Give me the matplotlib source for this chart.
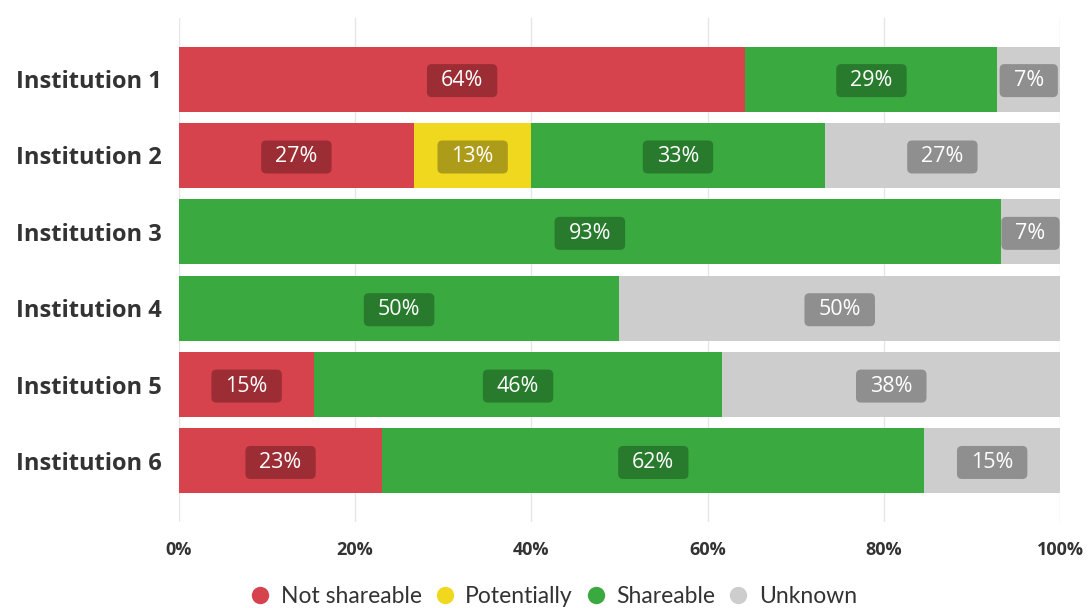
import matplotlib
matplotlib.use("Agg")
import matplotlib.pyplot as plt
from matplotlib.lines import Line2D
from matplotlib.patches import FancyBboxPatch
from matplotlib.transforms import IdentityTransform
import numpy as np

institutions = ["Institution 1", "Institution 2", "Institution 3",
                "Institution 4", "Institution 5", "Institution 6"]
series_names = ["Not shareable", "Potentially", "Shareable", "Unknown"]
not_shareable = [64.3, 26.7, 0.0, 0.0, 15.4, 23.1]
potentially = [0.0, 13.3, 0.0, 0.0, 0.0, 0.0]
shareable = [28.6, 33.3, 93.3, 50.0, 46.2, 61.5]
unknown = [7.1, 26.7, 6.7, 50.0, 38.5, 15.4]
x_ticks = [0, 20, 40, 60, 80, 100]

colors = ["#d6434d", "#f0d81e", "#3aa940", "#cdcdcd"]
box_colors = ["#9c2d34", "#ad9b1a", "#287a2c", "#8f8f8f"]

plt.rcParams['font.family'] = ['Open Sans', 'DejaVu Sans']

fig = plt.figure(figsize=(10.9, 6.08), dpi=100)
ax = fig.add_axes([0.164, 0.1414, 0.8085, 0.829])

y = np.arange(len(institutions))
left = np.zeros(len(institutions))
labels = []
for vals, c, bc in zip([not_shareable, potentially, shareable, unknown], colors, box_colors):
    vals = np.array(vals)
    ax.barh(y, vals, left=left, height=0.85, color=c, zorder=2)
    for yi, (l, v) in enumerate(zip(left, vals)):
        if v > 0:
            t = ax.text(l + v / 2, yi + 0.02, f"{round(v)}%", ha="center", va="center",
                        color="white", fontsize=15.5, zorder=4)
            labels.append((t, bc))
    left = left + vals

ax.set_xlim(0, 100)
ax.set_ylim(5.8, -0.8)
ax.set_xticks(x_ticks)
ax.set_xticklabels([f"{t}%" for t in x_ticks], fontsize=13, fontweight="bold",
                   color="#333333")
ax.set_yticks(y)
ax.set_yticklabels(institutions, fontsize=17, fontweight="bold", color="#333333")
ax.tick_params(length=0)
ax.tick_params(axis="x", pad=14)
ax.tick_params(axis="y", pad=12)
for s in ax.spines.values():
    s.set_visible(False)
ax.grid(axis="x", color="#e6e6e6", linewidth=1, zorder=0)
ax.set_axisbelow(True)

handles = [Line2D([0], [0], marker="o", linestyle="none", markersize=12.5,
                  markerfacecolor=c, markeredgecolor="none") for c in colors]
fig.legend(handles, series_names, loc="lower center", ncol=4, frameon=False,
           bbox_to_anchor=(0.502, -0.032), handletextpad=-0.1,
           columnspacing=0.0, labelcolor="#333333", prop={'family': 'Lato', 'size': 16.5})

# rounded label boxes sized from rendered text
fig.canvas.draw()
renderer = fig.canvas.get_renderer()
for t, bc in labels:
    bb = t.get_window_extent(renderer)
    cx = (bb.x0 + bb.x1) / 2
    cy = (bb.y0 + bb.y1) / 2
    w = bb.width + 28
    h = 33
    p = FancyBboxPatch((cx - w / 2, cy - h / 2), w, h,
                       boxstyle="round,pad=0,rounding_size=5",
                       fc=bc, ec="none", transform=IdentityTransform(), zorder=3)
    ax.add_artist(p)

fig.savefig("out.png", dpi=100)
